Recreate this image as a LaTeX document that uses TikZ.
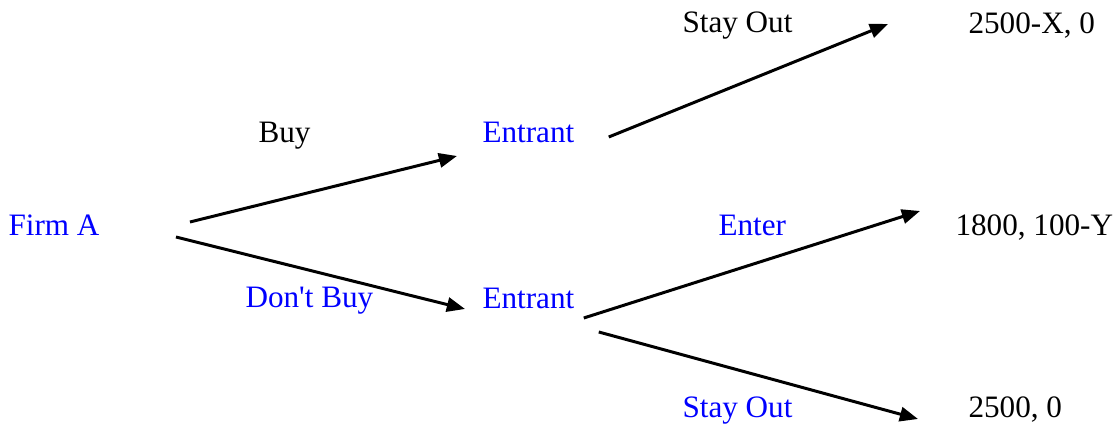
\documentclass[tikz,border=0pt]{standalone}
\usepackage{fontspec}
\setmainfont{Liberation Serif}
\usetikzlibrary{arrows.meta,calc}

\begin{document}
\begin{tikzpicture}[x=0.385pt, y=-0.385pt,
  lbl/.style={anchor=base west, inner sep=0pt, font=\fontsize{12}{14}\selectfont},
  player/.style={lbl, text=blue},
  move/.style={line width=1.15pt, -{Triangle[length=7pt,width=5.5pt]}}]
\useasboundingbox (0,0) rectangle (1117,426);

\node[player] (firm) at (8,236) {Firm A};
\node[lbl] (buy) at (258,143) {Buy};
\node[player] (dontbuy) at (245,308) {Don\textquotesingle t Buy};
\node[player] (ent1) at (482,143) {Entrant};
\node[player] (ent2) at (482,309) {Entrant};
\node[lbl] (stayout1) at (682,33) {Stay Out};
\node[player] (enter) at (718,236) {Enter};
\node[player] (stayout2) at (682,418) {Stay Out};
\node[lbl] (pay1) at (968,34) {2500-X, 0};
\node[lbl] (pay2) at (955,236) {1800, 100-Y};
\node[lbl] (pay3) at (968,418) {2500, 0};

\draw[move] ($(firm.base east)+(90,-14)$) -- ($(ent1.base west)+(-25,13)$);
\draw[move] ($(firm.base east)+(76,1)$) -- ($(ent2.base west)+(-17,0)$);
\draw[move] ($(ent1.base east)+(34,-6)$) -- ($(pay1.base west)+(-80,-10)$);
\draw[move] ($(ent2.base east)+(9,9)$) -- ($(pay2.base west)+(-35,-25)$);
\draw[move] ($(ent2.base east)+(24,23)$) -- ($(pay3.base west)+(-50,1)$);
\end{tikzpicture}
\end{document}
